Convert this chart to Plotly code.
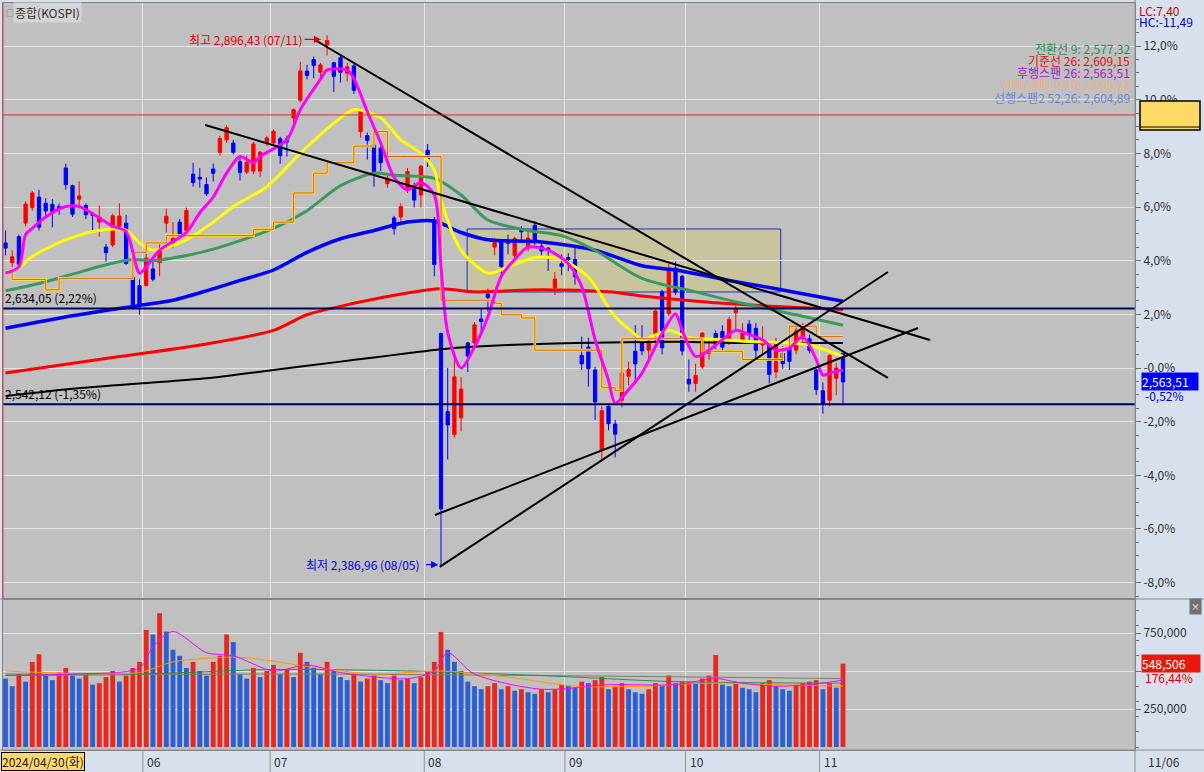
import plotly.graph_objects as go

# ---------------- data ----------------
dates = ["04/30","05/02","05/03","05/07","05/08","05/09","05/10","05/13","05/14","05/16","05/17","05/20","05/21","05/22","05/23","05/24","05/27","05/28","05/29","05/30","05/31",
         "06/03","06/04","06/05","06/07","06/10","06/11","06/12","06/13","06/14","06/17","06/18","06/19","06/20","06/21","06/24","06/25","06/26","06/27","06/28",
         "07/01","07/02","07/03","07/04","07/05","07/08","07/09","07/10","07/11","07/12","07/15","07/16","07/17","07/18","07/19","07/22","07/23","07/24","07/25","07/26","07/29","07/30","07/31",
         "08/01","08/02","08/05","08/06","08/07","08/08","08/09","08/12","08/13","08/14","08/16","08/19","08/20","08/21","08/22","08/23","08/26","08/27","08/28","08/29","08/30",
         "09/02","09/03","09/04","09/05","09/06","09/09","09/10","09/11","09/12","09/13","09/19","09/20","09/23","09/24","09/25","09/26","09/27","09/30",
         "10/02","10/04","10/07","10/08","10/10","10/11","10/14","10/15","10/16","10/17","10/18","10/21","10/22","10/23","10/24","10/25","10/28","10/29","10/30","10/31",
         "11/01","11/04","11/05","11/06"]

opens = [2697,2678,2703,2716,2731,2741,2735,2734,2732,2769,2752,2739,2733,2725,2717,2693,2695,2713,2716,2664,2656,
         2656,2672,2678,2716,2697,2717,2709,2763,2760,2753,2768,2784,2796,2793,2775,2765,2766,2766,2793,
         2793,2797,2797,2817,2834,2862,2873,2861,2887,2870,2875,2860,2867,2804,2800,2791,2788,2754,2721,2722,2748,2751,2743,
         2786,2719,2610,2535,2513,2529,2601,2601,2624,2648,2693,2698,2699,2685,2710,2692,2714,2694,2692,2654,2677,
         2683,2681,2589,2597,2575,2498,2540,2523,2546,2569,2593,2601,2594,2610,2650,2629,2673,2665,
         2566,2562,2578,2591,2610,2612,2601,2630,2604,2619,2615,2599,2599,2573,2591,2596,2594,2605,2605,2575,
         2555,2546,2567,2591]
highs = [2709,2690,2705,2737,2747,2748,2740,2739,2735,2773,2753,2756,2735,2727,2733,2696,2725,2735,2724,2666,2662,
         2690,2681,2697,2730,2717,2720,2731,2774,2769,2760,2773,2800,2810,2796,2780,2781,2794,2785,2800,
         2806,2799,2800,2826,2871,2868,2876,2870,2896.43,2871,2877,2870,2870,2826,2803,2793,2790,2762,2723,2735,2769,2755,2772,
         2792,2722,2611,2577,2593,2568,2602,2621,2634,2653,2702,2699,2705,2703,2713,2710,2718,2698,2693,2669,2686,
         2687,2693,2607,2606,2578,2540,2543,2527,2575,2583,2618,2618,2606,2633,2652,2677,2679,2666,
         2585,2581,2611,2604,2613,2618,2626,2637,2620,2623,2620,2617,2602,2606,2598,2602,2618,2620,2609,2576,
         2563,2590,2582,2591]
lows = [2685,2674,2673,2713,2728,2709,2722,2712,2724,2748,2722,2730,2720,2708,2703,2679,2693,2711,2676,2633,2628,
        2656,2660,2665,2707,2692,2702,2707,2751,2750,2742,2756,2781,2793,2782,2757,2763,2763,2760,2790,
        2791,2773,2780,2812,2832,2854,2855,2856,2877,2842,2851,2852,2840,2798,2777,2751,2766,2750,2705,2714,2745,2731,2731,
        2770,2665,2386.96,2489,2510,2516,2573,2598,2611,2631,2685,2663,2686,2683,2697,2689,2695,2685,2670,2647,2666,
        2670,2657,2575,2559,2527,2489,2517,2491,2539,2560,2562,2589,2585,2601,2590,2627,2647,2589,
        2554,2554,2576,2585,2595,2594,2599,2613,2600,2604,2585,2591,2562,2567,2576,2575,2590,2599,2591,2551,
        2533,2540,2551,2541]
closes = [2692.06,2683.65,2676.63,2734.36,2745.05,2712.14,2727.63,2727.21,2730.34,2753.00,2724.62,2742.14,2724.18,2723.46,2721.81,2687.60,2722.99,2722.85,2677.30,2635.44,2636.52,
          2682.52,2662.10,2689.50,2722.67,2701.17,2705.42,2728.17,2754.89,2758.42,2744.10,2763.92,2797.33,2807.63,2784.06,2764.73,2774.39,2792.05,2784.26,2797.82,
          2804.31,2780.86,2794.01,2824.94,2862.23,2857.76,2867.38,2867.99,2891.35,2857.00,2860.92,2866.09,2843.69,2824.35,2795.46,2763.51,2774.04,2758.71,2710.65,2731.90,2765.51,2738.19,2770.69,
          2777.68,2676.19,2441.55,2522.15,2568.41,2556.73,2588.43,2618.30,2621.50,2644.50,2697.23,2674.36,2696.63,2701.13,2707.67,2701.69,2698.01,2689.25,2689.83,2662.28,2674.31,
          2681.00,2664.63,2580.80,2576.20,2544.28,2535.93,2523.43,2513.37,2572.09,2575.41,2580.80,2593.37,2602.01,2631.68,2596.32,2671.57,2649.78,2593.27,
          2561.69,2569.71,2610.38,2594.36,2599.16,2596.91,2623.31,2633.45,2610.36,2609.30,2593.82,2604.06,2570.70,2599.62,2581.03,2583.27,2612.43,2617.80,2593.79,2556.15,
          2542.36,2588.97,2576.88,2563.51]

volumes = [450000,400000,480000,430000,560000,610000,470000,440000,490000,520000,470000,450000,480000,410000,420000,460000,500000,430000,470000,520000,560000,
           770000,740000,880000,760000,640000,600000,520000,560000,500000,470000,560000,600000,740000,690000,480000,450000,520000,460000,500000,
           540000,480000,510000,460000,620000,560000,520000,480000,560000,500000,460000,440000,480000,430000,450000,470000,440000,420000,470000,440000,450000,420000,460000,
           500000,560000,757000,640000,560000,500000,430000,400000,380000,400000,420000,380000,400000,370000,380000,360000,350000,380000,360000,380000,410000,
           400000,390000,430000,420000,440000,460000,380000,400000,420000,380000,360000,350000,380000,420000,400000,470000,420000,430000,
           430000,420000,450000,470000,605000,410000,400000,420000,390000,380000,360000,420000,440000,400000,380000,370000,410000,420000,430000,440000,
           380000,420000,390000,548506]

# moving-average lines (candle index, value)
ma5_i = [0,2,3,4,6,9,11,14,16,18,20,21,23,27,29,31,33,35,37,38,42,44,47,48,51,52,54,56,58,60,62,64,65,66,68,70,72,74,76,78,81,84,86,88,90,91,93,95,98,100,101,103,105,107,109,111,113,115,117,119,121,122,123,125]
ma5_v = [2668,2674,2705,2711,2722,2732,2732,2721,2713,2708,2668,2674,2690,2707,2726,2741,2764,2780,2774,2780,2796,2825,2854,2863,2863,2855,2823,2793,2760,2748,2755,2743,2674,2611,2577,2597,2626,2665,2681,2693,2690,2677,2655,2604,2565,2543,2556,2572,2610,2629,2613,2588,2594,2604,2613,2609,2604,2594,2596,2607,2585,2570,2572,2575]
ma20_i = [0,2,4,9,14,18,20,22,27,31,34,39,44,49,52,56,59,62,64,65,68,72,75,79,83,87,91,94,95,99,102,107,112,117,120,125]
ma20_v = [2668,2673,2684,2700,2709,2709,2697,2690,2700,2717,2732,2751,2783,2812,2825,2817,2796,2783,2767,2738,2690,2668,2674,2683,2681,2664,2626,2609,2604,2613,2606,2604,2602,2601,2599,2588]
ma60_i = [0,5,10,15,19,22,27,31,40,45,50,55,58,64,68,72,78,83,88,95,103,110,118,125]
ma60_v = [2651,2658,2667,2676,2681,2680,2685,2691,2711,2728,2752,2764,2762,2759,2743,2719,2709,2704,2690,2663,2650,2639,2628,2618]
ma120_i = [0,10,20,25,30,35,40,45,50,55,60,64,68,72,80,88,95,100,108,115,120,125]
ma120_v = [2615,2627,2637,2642,2651,2661,2671,2688,2701,2709,2717,2718,2707,2700,2698,2690,2675,2671,2661,2653,2647,2641]
ma200_i = [0,15,30,40,45,52,60,65,70,80,90,95,105,115,125]
ma200_v = [2572,2586,2600,2613,2628,2639,2649,2653,2650,2652,2650,2646,2640,2636,2633]
ma240_i = [0,10,20,30,40,50,55,60,65,75,85,100,110,125]
ma240_v = [2550,2557,2562,2567,2575,2583,2587,2591,2595,2599,2601,2602,2601,2601]
base_i = [0,1,6,8,18,19,21,24,30,37,40,43,46,48,52,55,57,60,64,65,73,74,77,79,88,89,91,92,103,104,107,110,113,116,117,118,119,121,125]
base_v = [2669,2662,2652,2663,2663,2688,2697,2704,2704,2710,2717,2745,2764,2774,2790,2804,2780,2780,2780,2642,2639,2628,2625,2594,2594,2558,2555,2605,2605,2593,2593,2585,2585,2596,2617,2617,2617,2607,2607]

vma5_i = [0,10,20,22,25,30,34,40,45,50,60,64,66,70,80,90,100,106,110,115,120,125]
vma5_v = [470000,480000,520000,660000,760000,620000,600000,500000,540000,490000,450000,500000,620000,480000,380000,410000,410000,450000,420000,400000,410000,440000]
vma20_i = [0,20,25,35,45,55,65,75,85,95,105,115,125]
vma20_v = [500000,490000,560000,590000,530000,480000,500000,460000,400000,400000,420000,410000,400000]
vma60_i = [0,20,40,60,80,100,125]
vma60_v = [480000,480000,510000,500000,470000,430000,420000]
vma120_i = [0,40,80,125]
vma120_v = [470000,480000,470000,450000]

base_price = 2576.88        # previous close, 0 % reference
pct_ticks = [12, 10, 8, 6, 4, 2, 0, -2, -4, -6, -8]
pct_text = ["12,0%", "10,0%", "8,0%", "6,0%", "4,0%", "2,0%", "-0,0%", "-2,0%", "-4,0%", "-6,0%", "-8,0%"]
hline_prices = [2634.05, 2542.12]
hline_labels = ["2,634,05 (2,22%)", "2,542,12 (-1,35%)"]
red_ref_price = 2819.9
box_x = [68.9, 115.7]
box_y = [2649.9, 2710.4]
trend_lines = [((46.2, 2891.9), (131.7, 2567.3)),
               ((29.8, 2810.3), (138.0, 2603.8)),
               ((64.8, 2385.8), (131.7, 2669.1)),
               ((64.1, 2435.7), (136.2, 2615.3))]
month_bounds = [20.5, 39.5, 62.5, 83.5, 101.5, 121.5]
month_labels = ["06", "07", "08", "09", "10", "11"]
legend_lines = [("전환선 9: 2,577,32", "#2e8b57"), ("기준선 26: 2,609,15", "#e01010"),
                ("후행스팬 26: 2,563,51", "#a020c0"), ("선행스팬1 9,26: 2,590,23", "#f4b183"),
                ("선행스팬2 52,26: 2,604,89", "#6f86d6")]

FONT = "Noto Sans CJK KR"
W, H = 1204, 772
X0, X1 = 3, 1135
def px(x):
    return x / W
def py(y):
    return 1 - y / H

x = list(range(len(closes)))
fig = go.Figure()

def line(xs, ys, color, width, yaxis="y", xaxis="x", shape="spline"):
    fig.add_trace(go.Scatter(x=xs, y=ys, mode="lines", xaxis=xaxis, yaxis=yaxis,
                             line=dict(color=color, width=width, shape=shape, smoothing=0.8 if shape == "spline" else None),
                             hoverinfo="skip", showlegend=False))

line(ma240_i, ma240_v, "#000000", 2)
line(ma200_i, ma200_v, "#ff0000", 3)
line(ma120_i, ma120_v, "#0000ff", 3.5)
line(ma60_i, ma60_v, "#3c9a5c", 3)
line(ma20_i, ma20_v, "#ffff00", 3)
line(base_i, base_v, "#ffe24a", 2.6, shape="hv")
line(base_i, base_v, "#e05a00", 1, shape="hv")
line(ma5_i, ma5_v, "#ff00ff", 3)

fig.add_trace(go.Candlestick(x=x, open=opens, high=highs, low=lows, close=closes,
                             increasing=dict(line=dict(color="#ff0000", width=1), fillcolor="#ff0000"),
                             decreasing=dict(line=dict(color="#0000ff", width=1), fillcolor="#0000ff"),
                             whiskerwidth=0, showlegend=False, hoverinfo="skip"))

for (a, b) in trend_lines:
    fig.add_trace(go.Scatter(x=[a[0], b[0]], y=[a[1], b[1]], mode="lines",
                             line=dict(color="#000000", width=2), hoverinfo="skip", showlegend=False))

# volume bar colour: red when volume rose versus the previous session, blue otherwise
vol_colors = ["#e8281e" if (k > 0 and volumes[k] >= volumes[k - 1]) else "#2a5fd6" for k in range(len(volumes))]
fig.add_trace(go.Bar(x=x, y=volumes, marker=dict(color=vol_colors, line=dict(width=0)), width=0.72,
                     xaxis="x2", yaxis="y2", showlegend=False, hoverinfo="skip"))
line(vma120_i, vma120_v, "#808060", 1, "y2", "x2")
line(vma60_i, vma60_v, "#2e8b57", 1, "y2", "x2")
line(vma20_i, vma20_v, "#ff9900", 1, "y2", "x2")
line(vma5_i, vma5_v, "#ff00ff", 1, "y2", "x2")

yrange = [base_price - 230 * 0.9604, base_price + 365 * 0.9604]
xrange = [(X0 - 5.5) / 6.7, (X1 - 5.5) / 6.7]
tick_prices = [base_price * (1 + p / 100) for p in pct_ticks]
minor_prices = [base_price * (1 + k / 200) for k in range(-17, 27)]

fig.update_layout(
    width=W, height=H, margin=dict(l=0, r=0, t=0, b=0, pad=0, autoexpand=False),
    paper_bgcolor="#d7e0ec", plot_bgcolor="#c0c0c0",
    font=dict(family=FONT, size=11, color="#202020"),
    xaxis=dict(domain=[px(X0), px(X1)], range=xrange, tickvals=month_bounds, showticklabels=False,
               showgrid=True, gridcolor="#e4e4e4", gridwidth=1, zeroline=False, rangeslider=dict(visible=False),
               showline=True, linecolor="#808080", mirror=True, anchor="y", ticks="", automargin=False),
    yaxis=dict(domain=[py(598), py(3)], range=yrange, side="right", tickvals=tick_prices, ticktext=pct_text,
               showgrid=True, gridcolor="#e4e4e4", zeroline=False, ticks="outside", ticklen=5, tickcolor="#707070",
               tickfont=dict(size=12, color="#303030", family=FONT), automargin=False,
               minor=dict(tickvals=minor_prices, ticklen=3, tickcolor="#707070", showgrid=False, ticks="outside"),
               showline=True, linecolor="#808080", mirror=True, anchor="x"),
    xaxis2=dict(domain=[px(X0), px(X1)], range=xrange, tickvals=month_bounds, showticklabels=False,
                showgrid=True, gridcolor="#e4e4e4", zeroline=False, anchor="y2", matches="x", automargin=False,
                showline=True, linecolor="#808080", mirror=True, ticks=""),
    yaxis2=dict(domain=[py(750), py(600)], range=[-19737, 967100], side="right",
                tickvals=[250000, 500000, 750000], ticktext=["250,000", "", "750,000"],
                showgrid=True, gridcolor="#e4e4e4", zeroline=False, ticks="outside", ticklen=5, tickcolor="#707070",
                tickfont=dict(size=12, color="#303030", family=FONT), automargin=False,
                minor=dict(dtick=100000, ticklen=3, tickcolor="#707070", ticks="outside"),
                showline=True, linecolor="#808080", mirror=True, anchor="x2"),
    bargap=0.2,
)

shapes = []
for p in hline_prices:
    shapes.append(dict(type="line", xref="paper", yref="y", x0=px(X0), x1=px(X1), y0=p, y1=p,
                       line=dict(color="#000060", width=2)))
shapes.append(dict(type="line", xref="paper", yref="y", x0=px(X0), x1=px(X1), y0=red_ref_price, y1=red_ref_price,
                   line=dict(color="#e03030", width=1)))
shapes.append(dict(type="rect", xref="x", yref="y", x0=box_x[0], x1=box_x[1], y0=box_y[0], y1=box_y[1],
                   fillcolor="rgba(205,198,130,0.55)", line=dict(color="#2030c0", width=1), layer="below"))
shapes.append(dict(type="line", xref="paper", yref="paper", x0=px(3), x1=px(3), y0=py(598), y1=py(3),
                   line=dict(color="#d04040", width=1)))
shapes.append(dict(type="line", xref="paper", yref="paper", x0=px(X1), x1=px(X1), y0=0, y1=1,
                   line=dict(color="#8c8c8c", width=1)))
shapes.append(dict(type="line", xref="paper", yref="paper", x0=0, x1=1, y0=py(750), y1=py(750),
                   line=dict(color="#8c8c8c", width=1)))
shapes.append(dict(type="line", xref="paper", yref="paper", x0=0, x1=1, y0=py(599), y1=py(599),
                   line=dict(color="#8c8c8c", width=1)))
for b in month_bounds:
    shapes.append(dict(type="line", xref="x2", yref="paper", x0=b, x1=b, y0=0, y1=py(750),
                       line=dict(color="#909090", width=1)))
shapes.append(dict(type="rect", xref="paper", yref="paper", x0=px(1140), x1=px(1200), y0=py(130), y1=py(101),
                   fillcolor="#ffd966", line=dict(color="#000000", width=1.5)))
shapes.append(dict(type="line", xref="paper", yref="paper", x0=px(1140), x1=px(1200), y0=py(127), y1=py(127),
                   line=dict(color="#000000", width=1)))
fig.update_layout(shapes=shapes)

ann = []
ann.append(dict(xref="paper", yref="paper", x=px(13), y=py(12), text="종합(KOSPI)", showarrow=False,
                xanchor="left", yanchor="middle", font=dict(size=12, color="#303030"), bgcolor="#d4d4d4"))
ann.append(dict(xref="paper", yref="paper", x=px(4), y=py(12), text="□", showarrow=False,
                xanchor="left", yanchor="middle", font=dict(size=8, color="#606060")))
for p, t in zip(hline_prices, hline_labels):
    ann.append(dict(xref="paper", yref="y", x=px(3), y=p, text=t, showarrow=False, xanchor="left", yanchor="bottom",
                    font=dict(size=12, color="#000000")))
hi_i = highs.index(max(highs))
lo_i = lows.index(min(lows))
ann.append(dict(xref="x", yref="y", x=hi_i - 0.9, y=max(highs) - 4, ax=-18, ay=0, text="", showarrow=True,
                arrowhead=2, arrowsize=1.2, arrowwidth=1.2, arrowcolor="#e00000"))
ann.append(dict(xref="x", yref="y", x=hi_i - 3.3, y=max(highs) - 4, text="최고 2,896,43 (07/11)", showarrow=False,
                xanchor="right", yanchor="middle", font=dict(size=12, color="#e00000")))
ann.append(dict(xref="x", yref="y", x=lo_i - 0.4, y=min(lows) + 1, ax=-14, ay=0, text="", showarrow=True,
                arrowhead=2, arrowsize=1.2, arrowwidth=1.2, arrowcolor="#0000e0"))
ann.append(dict(xref="x", yref="y", x=lo_i - 2.9, y=min(lows) + 1, text="최저 2,386,96 (08/05)", showarrow=False,
                xanchor="right", yanchor="middle", font=dict(size=12, color="#0000e0")))
for k, (t, c) in enumerate(legend_lines):
    ann.append(dict(xref="paper", yref="paper", x=px(1132), y=py(48 + k * 12.3), text=t, showarrow=False,
                    xanchor="right", yanchor="middle", font=dict(size=12, color=c)))
ann.append(dict(xref="paper", yref="paper", x=px(1137), y=py(10), text="LC:7,40", showarrow=False,
                xanchor="left", yanchor="middle", font=dict(size=12, color="#d00000")))
ann.append(dict(xref="paper", yref="paper", x=px(1137), y=py(22), text="HC:-11,49", showarrow=False,
                xanchor="left", yanchor="middle", font=dict(size=12, color="#0000c0")))
ann.append(dict(xref="paper", yref="y", x=px(1141), y=closes[-1], text="2,563,51", showarrow=False,
                xanchor="left", yanchor="middle", font=dict(size=12, color="#ffffff"), bgcolor="#0000ff",
                borderpad=0, width=56, align="left"))
ann.append(dict(xref="paper", yref="paper", x=px(1143), y=py(395), text="-0,52%", showarrow=False,
                xanchor="left", yanchor="middle", font=dict(size=12, color="#0000c0")))
ann.append(dict(xref="paper", yref="y2", x=px(1141), y=volumes[-1], text="548,506", showarrow=False,
                xanchor="left", yanchor="middle", font=dict(size=12, color="#ffffff"), bgcolor="#e8180c",
                borderpad=0, width=58, align="left"))
ann.append(dict(xref="paper", yref="paper", x=px(1143), y=py(677), text="176,44%", showarrow=False,
                xanchor="left", yanchor="middle", font=dict(size=12, color="#e00000")))
ann.append(dict(xref="paper", yref="paper", x=px(1195), y=py(606), text="×", showarrow=False,
                xanchor="center", yanchor="middle", font=dict(size=9, color="#ffffff"), bgcolor="#707070"))
for b, t in zip(month_bounds, month_labels):
    ann.append(dict(xref="x2", yref="paper", x=b, y=py(761), text=t, showarrow=False, xanchor="left",
                    yanchor="middle", xshift=2, font=dict(size=12, color="#303030")))
ann.append(dict(xref="paper", yref="paper", x=px(1), y=py(761), text="2024/04/30(화)", showarrow=False,
                xanchor="left", yanchor="middle", font=dict(size=12, color="#202020"), bgcolor="#ffd966",
                bordercolor="#000000", borderwidth=1, borderpad=0))
ann.append(dict(xref="paper", yref="paper", x=px(1146), y=py(761), text="11/06", showarrow=False,
                xanchor="left", yanchor="middle", font=dict(size=12, color="#303030")))
fig.update_layout(annotations=ann)

fig.write_html("out.html", config={"displayModeBar": False},
               post_script="document.body.style.margin='0px';document.body.style.padding='0px';")
